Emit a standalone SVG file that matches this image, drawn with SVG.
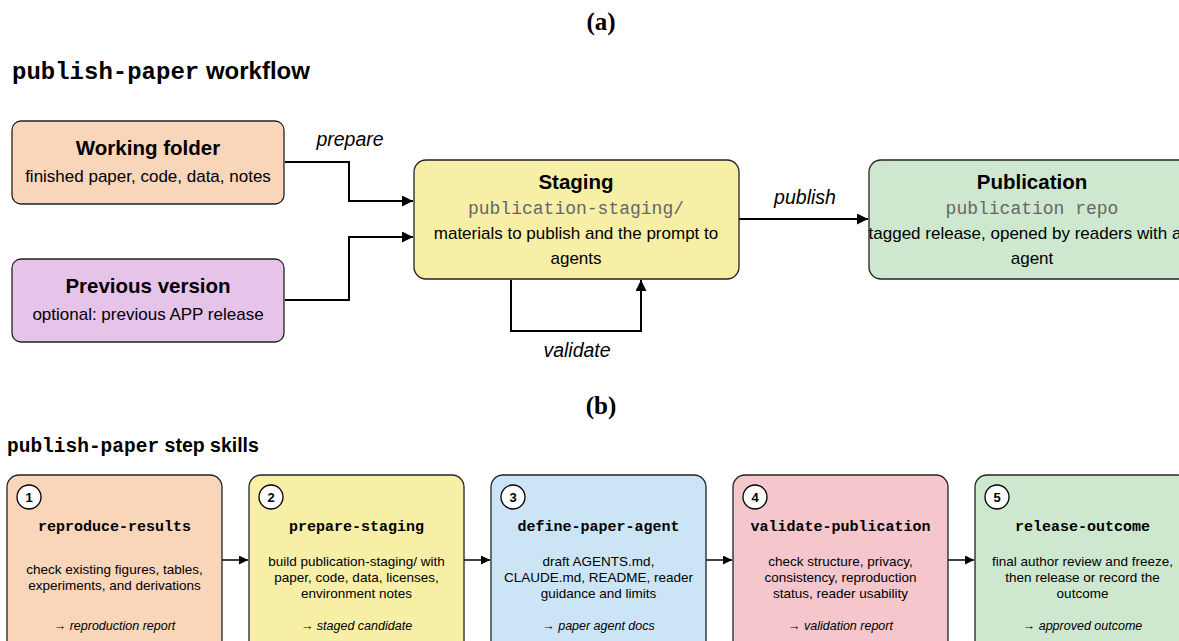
<svg xmlns="http://www.w3.org/2000/svg" width="1179" height="641" viewBox="0 0 1179 641">
<defs>
<marker id="ah" viewBox="0 0 10 10" refX="10" refY="5" markerWidth="11" markerHeight="11" markerUnits="userSpaceOnUse" orient="auto">
<path d="M0,0 L10,5 L0,10 z" fill="#000"/>
</marker>
<marker id="ahs" viewBox="0 0 10 10" refX="10" refY="5" markerWidth="9" markerHeight="9" markerUnits="userSpaceOnUse" orient="auto">
<path d="M0,0 L10,5 L0,10 z" fill="#000"/>
</marker>
</defs>
<style>
.box{stroke:#222;stroke-width:1.3}
.sans{font-family:"Liberation Sans",Arial,sans-serif}
.mono{font-family:"Liberation Mono","Courier New",monospace}
.ser{font-family:"Liberation Serif","Times New Roman",serif;font-weight:bold;font-size:25px}
.h{font-family:"Liberation Sans",Arial,sans-serif;font-weight:bold;font-size:20.5px;text-anchor:middle}
.t{font-family:"Liberation Sans",Arial,sans-serif;font-size:17px;text-anchor:middle}
.m{font-family:"Liberation Mono","Courier New",monospace;font-size:18px;fill:#666;text-anchor:middle}
.lbl{font-family:"Liberation Sans",Arial,sans-serif;font-style:italic;font-size:19.5px;text-anchor:middle}
.ln{fill:none;stroke:#000;stroke-width:2}
.lns{fill:none;stroke:#000;stroke-width:1.5}
.st{font-family:"Liberation Mono","Courier New",monospace;font-weight:bold;font-size:15px;text-anchor:middle}
.sb{font-family:"Liberation Sans",Arial,sans-serif;font-size:13.5px;text-anchor:middle}
.so{font-family:"Liberation Sans",Arial,sans-serif;font-style:italic;font-size:12.5px;text-anchor:middle}
.num{font-family:"Liberation Sans",Arial,sans-serif;font-weight:bold;font-size:13px;text-anchor:middle}
.circ{fill:#fff;stroke:#000;stroke-width:1.3}
</style>
<rect width="1179" height="641" fill="#fff"/>
<text x="601" y="30" class="ser" text-anchor="middle">(a)</text>
<text x="12" y="79" font-size="24"><tspan class="mono" font-weight="bold">publish-paper</tspan><tspan class="sans" font-weight="bold"> workflow</tspan></text>

<g id="connectors-a">
<polyline class="ln" points="285,162 349,162 349,201 413,201" marker-end="url(#ah)"/>
<polyline class="ln" points="285,300 349,300 349,237 413,237" marker-end="url(#ah)"/>
<polyline class="ln" points="511,280 511,331 641,331 641,280" marker-end="url(#ah)"/>
<line class="ln" x1="739" y1="219" x2="868" y2="219" marker-end="url(#ah)"/>
<text x="350" y="146" class="lbl">prepare</text>
<text x="577" y="357" class="lbl">validate</text>
<text x="805" y="204" class="lbl">publish</text>
</g>

<g id="working-folder">
<rect class="box" x="12" y="121" width="272" height="83" rx="9" fill="#f9d5b9"/>
<text x="148" y="155" class="h">Working folder</text>
<text x="148" y="182" class="t">finished paper, code, data, notes</text>
</g>
<g id="previous-version">
<rect class="box" x="12" y="259" width="272" height="83" rx="9" fill="#e6c3e9"/>
<text x="148" y="293" class="h">Previous version</text>
<text x="148" y="320" class="t">optional: previous APP release</text>
</g>
<g id="staging">
<rect class="box" x="414" y="160" width="325" height="119" rx="12" fill="#f7efa6"/>
<text x="576" y="189" class="h">Staging</text>
<text x="576" y="214" class="m">publication-staging/</text>
<text x="576" y="239" class="t">materials to publish and the prompt to</text>
<text x="576" y="264" class="t">agents</text>
</g>
<g id="publication">
<rect class="box" x="869" y="160" width="326" height="119" rx="12" fill="#cde8cf"/>
<text x="1032" y="189" class="h">Publication</text>
<text x="1032" y="214" class="m">publication repo</text>
<text x="1025" y="239" class="t">tagged release, opened by readers with a</text>
<text x="1032" y="264" class="t">agent</text>
</g>

<text x="601" y="414" class="ser" text-anchor="middle">(b)</text>
<text x="7" y="452" font-size="19.5"><tspan class="mono" font-weight="bold">publish-paper</tspan><tspan class="sans" font-weight="bold"> step skills</tspan></text>

<g id="connectors-b">
<line class="lns" x1="222" y1="560" x2="248" y2="560" marker-end="url(#ahs)"/>
<line class="lns" x1="464" y1="560" x2="490" y2="560" marker-end="url(#ahs)"/>
<line class="lns" x1="706" y1="560" x2="732" y2="560" marker-end="url(#ahs)"/>
<line class="lns" x1="948" y1="560" x2="974" y2="560" marker-end="url(#ahs)"/>
</g>

<g id="step1">
<rect class="box" x="7" y="475" width="215" height="180" rx="12" fill="#f9d5b9"/>
<circle class="circ" cx="29" cy="497" r="12"/>
<text x="29" y="502" class="num">1</text>
<text x="114.5" y="531" class="st">reproduce-results</text>
<text x="114.5" y="574" class="sb">check existing figures, tables,</text>
<text x="114.5" y="590" class="sb">experiments, and derivations</text>
<text x="114.5" y="630" class="so">→ reproduction report</text>
</g>
<g id="step2">
<rect class="box" x="249" y="475" width="215" height="180" rx="12" fill="#f7efa6"/>
<circle class="circ" cx="271" cy="497" r="12"/>
<text x="271" y="502" class="num">2</text>
<text x="356.5" y="531" class="st">prepare-staging</text>
<text x="356.5" y="566" class="sb">build publication-staging/ with</text>
<text x="356.5" y="582" class="sb">paper, code, data, licenses,</text>
<text x="356.5" y="598" class="sb">environment notes</text>
<text x="356.5" y="630" class="so">→ staged candidate</text>
</g>
<g id="step3">
<rect class="box" x="491" y="475" width="215" height="180" rx="12" fill="#cce5f6"/>
<circle class="circ" cx="513" cy="497" r="12"/>
<text x="513" y="502" class="num">3</text>
<text x="598.5" y="531" class="st">define-paper-agent</text>
<text x="598.5" y="566" class="sb">draft AGENTS.md,</text>
<text x="598.5" y="582" class="sb">CLAUDE.md, README, reader</text>
<text x="598.5" y="598" class="sb">guidance and limits</text>
<text x="598.5" y="630" class="so">→ paper agent docs</text>
</g>
<g id="step4">
<rect class="box" x="733" y="475" width="215" height="180" rx="12" fill="#f5c6cc"/>
<circle class="circ" cx="755" cy="497" r="12"/>
<text x="755" y="502" class="num">4</text>
<text x="840.5" y="531" class="st">validate-publication</text>
<text x="840.5" y="566" class="sb">check structure, privacy,</text>
<text x="840.5" y="582" class="sb">consistency, reproduction</text>
<text x="840.5" y="598" class="sb">status, reader usability</text>
<text x="840.5" y="630" class="so">→ validation report</text>
</g>
<g id="step5">
<rect class="box" x="975" y="475" width="215" height="180" rx="12" fill="#cde8cf"/>
<circle class="circ" cx="997" cy="497" r="12"/>
<text x="997" y="502" class="num">5</text>
<text x="1082.5" y="531" class="st">release-outcome</text>
<text x="1082.5" y="566" class="sb">final author review and freeze,</text>
<text x="1082.5" y="582" class="sb">then release or record the</text>
<text x="1082.5" y="598" class="sb">outcome</text>
<text x="1082.5" y="630" class="so">→ approved outcome</text>
</g>
</svg>
